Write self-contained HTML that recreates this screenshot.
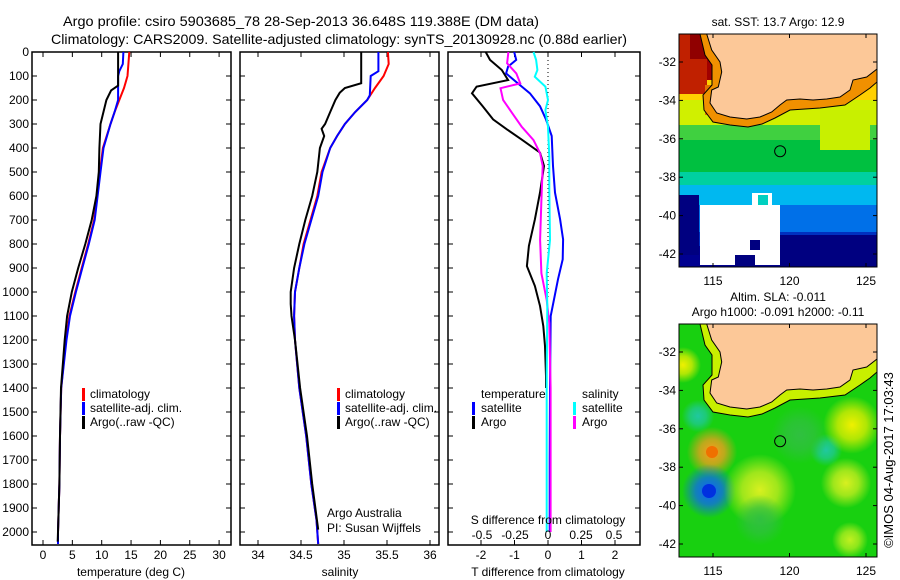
<!DOCTYPE html>
<html><head><meta charset="utf-8"><style>
html,body{margin:0;padding:0;background:#fff}
svg{display:block;font-family:"Liberation Sans",sans-serif}
text{font-size:12px;fill:#000}
</style></head><body>
<svg id="fig" width="900" height="580" viewBox="0 0 900 580" xmlns="http://www.w3.org/2000/svg">
<text x="63" y="26" textLength="476" lengthAdjust="spacingAndGlyphs" style="font-size:14px">Argo profile: csiro 5903685_78 28-Sep-2013 36.648S 119.388E (DM data)</text>
<text x="51" y="44" textLength="576" lengthAdjust="spacingAndGlyphs" style="font-size:14px">Climatology: CARS2009. Satellite-adjusted climatology: synTS_20130928.nc (0.88d earlier)</text>
<g id="panels"></g>
<g id="maps"></g>
<text transform="translate(893,460) rotate(-90)" text-anchor="middle" style="font-size:13px">©IMOS 04-Aug-2017 17:03:43</text>
</svg>
<script>
// ---- data ----
const tempClimDepth = [0,100,150,200,250,300,400,500,600,700,800,900,1000,1100,1200,1400,1600,1800,2000,2050];
const tempClim      = [14.7,14.4,13.8,13.0,12.2,11.5,10.2,9.7,9.2,8.7,7.7,6.6,5.5,4.5,3.9,3.1,2.9,2.8,2.55,2.55];
const tempSatDepth  = [0,50,80,100,200,250,300,400,500,600,700,800,900,1000,1100,1200,1400,1600,1800,2000,2050];
const tempSat       = [13.7,13.6,13.0,12.8,12.8,12.2,11.5,10.3,9.8,9.3,8.8,7.8,6.7,5.6,4.6,4.0,3.1,2.9,2.8,2.55,2.55];
const tempArgoDepth = [0,140,160,200,300,400,500,600,700,800,900,1000,1100,1200,1400,1600,1800,2000,2040];
const tempArgo      = [12.8,12.8,11.6,10.8,9.8,9.6,9.5,9.1,8.3,7.2,6.0,4.9,4.1,3.7,3.07,2.9,2.8,2.55,2.5];

const salClimDepth = [0,50,100,150,200,250,300,350,400,500,600,700,800,900,1000,1100,1200,1400,1600,1800,1950,2050];
const salClim      = [35.51,35.52,35.46,35.36,35.27,35.13,35.01,34.92,34.84,34.74,34.69,34.61,34.53,34.48,34.43,34.42,34.43,34.48,34.56,34.62,34.68,34.70];
const salSatDepth  = [0,80,100,180,200,250,300,350,400,500,600,700,800,900,1000,1100,1200,1400,1600,1800,1950,2050];
const salSat       = [35.40,35.40,35.31,35.30,35.27,35.13,35.01,34.92,34.84,34.75,34.70,34.62,34.54,34.48,34.43,34.42,34.43,34.48,34.56,34.62,34.68,34.70];
const salArgoDepth = [0,130,150,170,200,250,300,320,350,400,500,600,700,800,900,1000,1050,1100,1200,1400,1600,1800,1990];
const salArgo      = [35.20,35.20,35.01,34.95,34.90,34.84,34.78,34.74,34.77,34.72,34.69,34.63,34.55,34.48,34.42,34.38,34.38,34.39,34.43,34.49,34.57,34.63,34.70];

const dTArgoDepth = [0,33,75,117,144,172,226,281,322,364,419,475,586,697,808,892,975,1058,1142,1225,1350,1400];
const dTArgo      = [-1.86,-1.73,-1.38,-1.19,-2.13,-2.27,-1.95,-1.64,-1.23,-0.79,-0.24,-0.12,-0.24,-0.39,-0.57,-0.63,-0.39,-0.24,-0.14,-0.09,-0.06,-0.06];
const dTSatDepth  = [0,33,61,89,131,172,226,281,350,475,586,697,781,864,947,1100,1400,1700,2000];
const dTSat       = [-1.01,-0.95,-1.19,-1.25,-0.90,-0.54,-0.24,-0.06,0.11,0.15,0.21,0.36,0.45,0.44,0.30,0.08,0.06,0.05,0.05];
const dSArgoDepth = [0,47,89,131,151,200,256,311,367,422,475,617,783,922,1033,1130,1400,1700,2000];
const dSArgo      = [-0.30,-0.31,-0.24,-0.21,-0.36,-0.34,-0.27,-0.20,-0.11,-0.06,-0.04,-0.05,-0.06,-0.05,-0.01,0.01,0.02,0.02,0.02];
const dSSatDepth  = [0,33,75,103,144,200,242,311,436,575,783,922,1060,1340,1700,2000];
const dSSat       = [-0.11,-0.09,-0.08,-0.10,-0.02,0.0,-0.02,0.0,0.01,0.01,0.015,-0.01,-0.005,-0.01,-0.01,-0.01];

const depthTicks = [0,100,200,300,400,500,600,700,800,900,1000,1100,1200,1300,1400,1500,1600,1700,1800,1900,2000];
const tempTicks = [0,5,10,15,20,25,30];
const salTicks = [34,34.5,35,35.5,36];
const dTTicks = [-2,-1,0,1,2];
const dSTicks = [-0.5,-0.25,0,0.25,0.5];
const dSTickLabels = ['-0.5','-0.25','0','0.25','0.5'];

const NS='http://www.w3.org/2000/svg';
function el(tag, attrs, parent){const e=document.createElementNS(NS,tag);for(const k in attrs)e.setAttribute(k,attrs[k]);parent.appendChild(e);return e;}
const yD = d => 52 + d*0.24;
const xT = t => 43 + t*5.87;
const xS = s => 258 + (s-34)*86;
const xdT = v => 548 + v*33.5;
const xdS = v => 548 + v*132;
const panels = document.getElementById('panels');

function frame(x0,x1,name){
  const r=el('rect',{x:x0,y:52,width:x1-x0,height:493,fill:'none',stroke:'#000','stroke-width':1.5},panels);
  
  
  depthTicks.forEach(d=>{
    el('line',{x1:x0,x2:x0+5,y1:yD(d),y2:yD(d),stroke:'#000'},panels);
    el('line',{x1:x1-5,x2:x1,y1:yD(d),y2:yD(d),stroke:'#000'},panels);
  });
}
function xticks(ticks,fx,labels,y,name){
  ticks.forEach((t,i)=>{
    el('line',{x1:fx(t),x2:fx(t),y1:52,y2:57,stroke:'#000'},panels);
    el('line',{x1:fx(t),x2:fx(t),y1:540,y2:545,stroke:'#000'},panels);
    if(labels){const tx=el('text',{x:fx(t),y:y,'text-anchor':'middle'},panels);tx.textContent=labels[i];
      
      }
  });
}
function line(depths,vals,fx,color,name,w){
  const pts=depths.map((d,i)=>fx(vals[i]).toFixed(1)+','+yD(d).toFixed(1)).join(' ');
  const p=el('polyline',{points:pts,fill:'none',stroke:color,'stroke-width':w||2},panels);
  
  
}
function txt(x,y,s,name,anchor){const t=el('text',{x:x,y:y,'text-anchor':anchor||'start'},panels);t.textContent=s;
  
  return t;}
function mark(x,y,color){el('rect',{x:x,y:y-10,width:3,height:13,fill:color},panels);}

// depth labels
depthTicks.forEach(d=>{const t=el('text',{x:29,y:yD(d)+4,'text-anchor':'end'},panels);t.textContent=d;
  
  });

// panel 1 temperature
frame(32,231,'temperature-panel');
xticks(tempTicks,xT,tempTicks.map(String),559,'temperature-tick-label');
line(tempClimDepth,tempClim,xT,'#ff0000','temp-climatology-line');
line(tempSatDepth,tempSat,xT,'#0000ff','temp-satellite-line');
line(tempArgoDepth,tempArgo,xT,'#000000','temp-argo-line');
txt(131,576,'temperature (deg C)','temperature-axis-title','middle');
mark(82,398,'#f00');txt(90,398,'climatology','legend-climatology');
mark(82,412,'#00f');txt(90,412,'satellite-adj. clim.','legend-satellite');
mark(82,426,'#000');txt(90,426,'Argo(..raw -QC)','legend-argo');

// panel 2 salinity
frame(240,439,'salinity-panel');
xticks(salTicks,xS,salTicks.map(String),559,'salinity-tick-label');
line(salClimDepth,salClim,xS,'#ff0000','sal-climatology-line');
line(salSatDepth,salSat,xS,'#0000ff','sal-satellite-line');
line(salArgoDepth,salArgo,xS,'#000000','sal-argo-line');
txt(340,576,'salinity','salinity-axis-title','middle');
mark(337,398,'#f00');txt(345,398,'climatology','legend-climatology');
mark(337,412,'#00f');txt(345,412,'satellite-adj. clim.','legend-satellite');
mark(337,426,'#000');txt(345,426,'Argo(..raw -QC)','legend-argo');
txt(327,517,'Argo Australia','argo-australia-note');
txt(327,532,'PI: Susan Wijffels','pi-note');

// panel 3 differences
frame(448,640,'difference-panel');
xticks(dTTicks,xdT,['-2','-1','0','1','2'],559,'t-diff-tick-label');
el('line',{x1:548,x2:548,y1:52,y2:300,stroke:'#000','stroke-dasharray':'1,3'},panels);
line(dTArgoDepth,dTArgo,xdT,'#000000','t-diff-argo-line');
line(dTSatDepth,dTSat,xdT,'#0000ff','t-diff-satellite-line');
line(dSArgoDepth,dSArgo,xdS,'#ff00ff','s-diff-argo-line');
line(dSSatDepth,dSSat,xdS,'#00ffff','s-diff-satellite-line');
dSTicks.forEach((v,i)=>txt(xdS(v),539,dSTickLabels[i],'s-diff-tick-label','middle'));
txt(548,524,'S difference from climatology','s-diff-axis-title','middle');
txt(548,576,'T difference from climatology','t-diff-axis-title','middle');
txt(481,398,'temperature','legend-temperature-heading');
txt(582,398,'salinity','legend-salinity-heading');
mark(472,412,'#00f');txt(481,412,'satellite','legend-t-satellite');
mark(472,426,'#000');txt(481,426,'Argo','legend-t-argo');
mark(573,412,'#0ff');txt(582,412,'satellite','legend-s-satellite');
mark(573,426,'#f0f');txt(582,426,'Argo','legend-s-argo');

// ---- maps ----
const maps=document.getElementById('maps');
const latTicks=[-32,-34,-36,-38,-40,-42];
const lonTicks=[115,120,125];
function mapPanel(oy,kind){
  const g=el('g',{},maps);
  
  
  const lx=lon=>713+15.3*(lon-115), ly=lat=>oy+62+19.2*(-32-lat);
  const cid='clip'+kind;
  const cp=el('clipPath',{id:cid},g);el('rect',{x:679,y:oy+34,width:198,height:233},cp);
  const c=el('g',{'clip-path':'url(#'+cid+')'},g);
  if(kind==='sst'){
    const bands=[[34,'#a00000'],[80,'#ffd000'],[100,'#d0f000'],[125,'#40d040'],[140,'#00c040'],[172,'#00d0a0'],[185,'#00b8f0'],[205,'#0070e8'],[232,'#0030c0'],[246,'#000090']];
    bands.forEach((b,i)=>{const y2=i<bands.length-1?bands[i+1][0]:267;el('rect',{x:679,y:oy+b[0],width:198,height:y2-b[0]+1,fill:b[1]},c);});
    el('rect',{x:679,y:oy+34,width:28,height:60,fill:'#c02000'},c);
    el('rect',{x:690,y:oy+34,width:18,height:25,fill:'#900000'},c);
    el('rect',{x:705,y:oy+85,width:15,height:30,fill:'#e07000'},c);
    el('rect',{x:820,y:oy+110,width:50,height:40,fill:'#c8f000'},c);
    el('rect',{x:679,y:oy+195,width:20,height:60,fill:'#000080'},c);
    el('rect',{x:700,y:oy+205,width:80,height:60,fill:'#ffffff'},c);
    el('rect',{x:752,y:oy+193,width:20,height:15,fill:'#ffffff'},c);
    el('rect',{x:758,y:oy+195,width:10,height:10,fill:'#00d0c0'},c);
    el('rect',{x:750,y:oy+240,width:10,height:10,fill:'#000080'},c);
    el('rect',{x:735,y:oy+255,width:20,height:12,fill:'#000080'},c);
    el('rect',{x:780,y:oy+235,width:97,height:32,fill:'#000080'},c);
  } else {
    el('rect',{x:679,y:oy+34,width:198,height:233,fill:'#18d010'},c);
    const blobs=[[712,162,14,'#ff9a20'],[709,201,15,'#1060ff'],[698,126,9,'#20c8a0'],[826,160,9,'#20c8a0'],[852,135,16,'#f0f000'],[760,200,20,'#d8f020'],[846,193,14,'#d8f020'],[683,75,10,'#f0f000'],[800,145,16,'#30c040'],[760,230,14,'#30c040'],[850,250,10,'#c0f020']];
    const defs=el('defs',{},c);
    blobs.forEach((b,i)=>{const id='rg'+i;const rg=el('radialGradient',{id:id},defs);
      el('stop',{offset:'0','stop-color':b[3]},rg);el('stop',{offset:'0.5','stop-color':b[3],'stop-opacity':0.7},rg);el('stop',{offset:'1','stop-color':b[3],'stop-opacity':0},rg);
      el('circle',{cx:b[0],cy:oy+b[1],r:b[2]*1.8,fill:'url(#'+id+')'},c);});
    el('circle',{cx:709,cy:oy+201,r:7,fill:'#0030e0'},c);
    el('circle',{cx:712,cy:oy+162,r:6,fill:'#f07000'},c);
  }
  // shelf band
  const coast=[[706.7,34],[711.7,50],[720,62],[721.7,72],[718.3,87],[711.7,90],[710,103],[716.7,113],[730,117],[746.7,119],[760,117],[771.7,112],[780,105],[786.7,100],[800,99],[813,100],[826.7,99],[840,97],[850,90],[853,80],[866.7,77],[877,69]];
  const shelf=[[700,34],[705,55],[712,65],[712,85],[703,95],[704,110],[713,122],[730,125],[748,127],[762,124],[775,118],[790,110],[820,108],[845,105],[860,95],[870,88],[877,82]];
  const sp=shelf.map(p=>p[0]+','+(p[1]+oy)).join(' ');
  if(kind==='sst'){
    el('polygon',{points:sp+' 877,'+(oy+34),fill:'#f09000'},c);
  } else {
    el('polygon',{points:sp+' 877,'+(oy+34),fill:'#c8f000'},c);
  }
  el('polyline',{points:sp,fill:'none',stroke:'#000','stroke-width':1},c);
  const land=coast.map(p=>p[0]+','+(p[1]+oy)).join(' ')+' 877,'+(oy+34);
  const lp=el('polygon',{points:land,fill:'#fcc898',stroke:'#000','stroke-width':1},c);
  
  
  const fl=el('circle',{cx:lx(119.388),cy:ly(-36.648),r:5.5,fill:'none',stroke:'#000','stroke-width':1},g);
  
  
  el('rect',{x:679,y:oy+34,width:198,height:233,fill:'none',stroke:'#000','stroke-width':1},g);
  latTicks.forEach(l=>{el('line',{x1:679,x2:683,y1:ly(l),y2:ly(l),stroke:'#000'},g);el('line',{x1:873,x2:877,y1:ly(l),y2:ly(l),stroke:'#000'},g);
    const t=el('text',{x:676,y:ly(l)+4,'text-anchor':'end'},g);t.textContent=l;
    
    });
  lonTicks.forEach(l=>{el('line',{x1:lx(l),x2:lx(l),y1:oy+34,y2:oy+38,stroke:'#000'},g);el('line',{x1:lx(l),x2:lx(l),y1:oy+263,y2:oy+267,stroke:'#000'},g);
    const t=el('text',{x:lx(l),y:oy+285,'text-anchor':'middle'},g);t.textContent=l;
    
    });
}
mapPanel(0,'sst');
mapPanel(290,'sla');
function mt(x,y,s,name){const t=el('text',{x:x,y:y,'text-anchor':'middle'},maps);t.textContent=s;
  
  }
mt(778,26,'sat. SST: 13.7 Argo: 12.9','sst-map-title');
mt(778,301,'Altim. SLA: -0.011','sla-map-title');
mt(778,316,'Argo h1000: -0.091 h2000: -0.11','sla-map-subtitle');
</script>
</body></html>
